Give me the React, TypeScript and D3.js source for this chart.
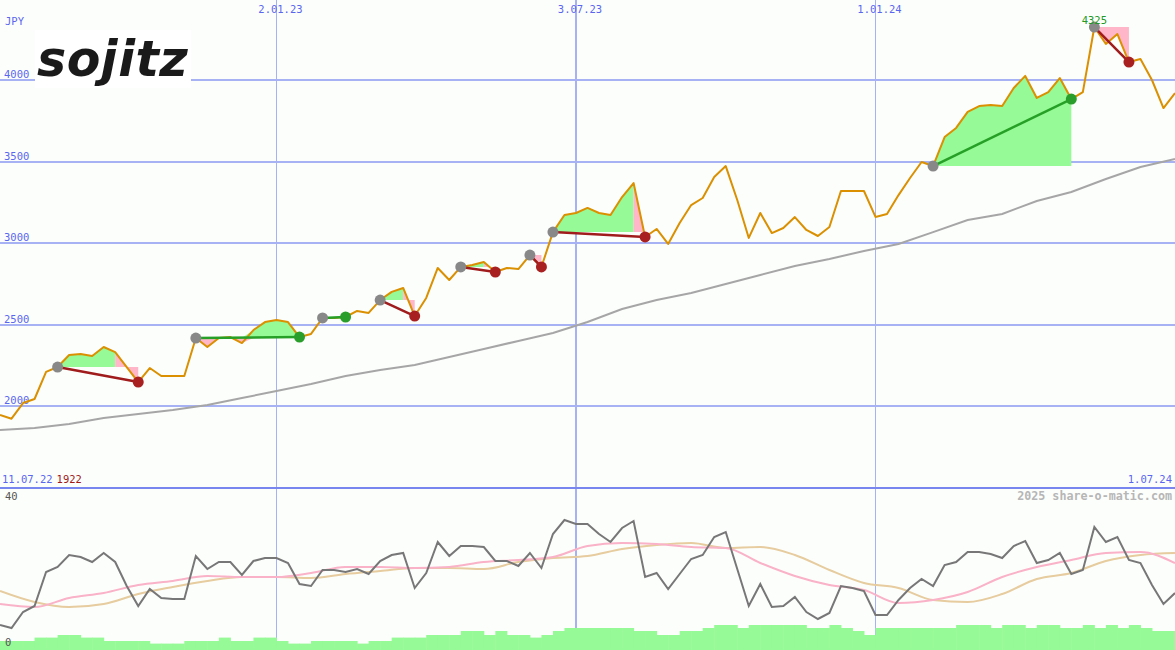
import * as d3 from "d3";

// weekly closes, first week = 18.07.22
const closes = [
  1945, 1922, 2018, 2043, 2209, 2239, 2313, 2319, 2307, 2362,
  2331, 2239, 2147, 2233, 2184, 2184, 2184, 2417, 2362, 2417,
  2423, 2386, 2466, 2515, 2528, 2515, 2423, 2442, 2540, 2540,
  2546, 2583, 2571, 2650, 2700, 2724, 2552, 2663, 2847, 2773,
  2853, 2865, 2883, 2822, 2847, 2840, 2926, 2853, 3067, 3172,
  3184, 3215, 3184, 3172, 3282, 3368, 3037, 3086, 2994, 3123,
  3233, 3276, 3405, 3472, 3264, 3031, 3184, 3061, 3092, 3159,
  3080, 3043, 3098, 3319, 3319, 3319, 3160, 3178, 3294, 3399,
  3497, 3472, 3650, 3706, 3804, 3840, 3847, 3840, 3951, 4025,
  3890, 3926, 4012, 3883, 3926, 4325, 4221, 4282, 4110, 4129,
  4000, 3828, 3920
];

// slow moving average, one value every 3rd week
const slowAvg = [
  1853, 1865, 1890, 1926, 1951, 1975, 2006, 2049, 2092, 2135,
  2184, 2221, 2252, 2301, 2350, 2399, 2448, 2515, 2595, 2650,
  2693, 2748, 2804, 2859, 2902, 2951, 2994, 3067, 3141, 3178,
  3258, 3313, 3393, 3466, 3515
];

// lower panel, weekly oscillator (grey)
const oscillator = [
  6.25, 5.5, 9.5, 11, 19.5, 20.75, 23.75, 23.25, 22, 24.25,
  22, 16, 11, 15.25, 13, 12.75, 12.75, 23.5, 20.25, 22,
  22, 18.75, 22.25, 23, 23, 21.75, 16.5, 16, 20, 20,
  19.5, 20.25, 19, 22.25, 23.75, 24.25, 15.5, 19.25, 27, 23.5,
  26, 26, 25.75, 22.25, 22.25, 21, 24.25, 20.5, 29, 32.5,
  31.5, 31.5, 29, 27, 30.5, 32.25, 18.25, 19.25, 15.25, 19,
  22.75, 23.75, 28.25, 29.5, 20.25, 11, 16.5, 10.75, 11, 13.25,
  9.5, 7.75, 9.25, 16, 15.5, 14.75, 8.75, 8.75, 12.5, 15.5,
  17.75, 16, 21.25, 22, 24.5, 24.5, 24, 23, 26, 27.25,
  21.75, 22.5, 24.25, 19, 20, 30.75, 27, 28.25, 22.5, 21.75,
  16.25, 11.5, 14.25
];

// lower panel averages, one value every 3rd week
const pinkAvg = [
  11.5, 10.75, 13, 14.25, 16.25, 17.25, 18.5, 18.25, 18.25, 19.25,
  20.75, 20.75, 20.5, 20.75, 22, 22.5, 23.25, 26, 26.75, 26.5,
  25.75, 25.5, 21.75, 18.5, 16.25, 15, 11.75, 12.5, 14.5, 18.25,
  20.75, 22.5, 24.25, 24.5, 21.75
];
const tanAvg = [
  14.75, 12, 10.75, 11.5, 14, 15.75, 17.25, 18.25, 18.25, 18,
  19, 19.75, 20.5, 20.5, 20.25, 22, 23, 23.5, 25.25, 26.25,
  26.75, 25.5, 25.75, 23.75, 20, 16.75, 15.5, 12.5, 12, 14,
  17.75, 19.25, 22.25, 23.75, 24.25
];

const volume = [
  2.25, 2.25, 2.25, 3.1, 3.1, 3.75, 3.75, 3.1, 3.1, 2.25,
  2.25, 2.25, 2.25, 1.6, 1.6, 1.6, 2.25, 2.25, 2.25, 3.1,
  2.25, 2.25, 3.1, 3.1, 2.25, 1.6, 1.6, 2.25, 2.25, 2.25,
  2.25, 1.6, 2.25, 2.25, 3.1, 3.1, 3.1, 3.75, 3.75, 3.75,
  4.75, 4.75, 3.75, 4.75, 3.75, 3.75, 3.1, 3.75, 4.75, 5.5,
  5.5, 5.5, 5.5, 5.5, 5.5, 4.75, 4.75, 3.75, 3.75, 4.75,
  4.75, 5.5, 6.25, 6.25, 5.5, 6.25, 6.25, 6.25, 6.25, 6.25,
  5.5, 5.5, 6.25, 5.5, 4.75, 3.75, 5.5, 5.5, 5.5, 5.5,
  5.5, 5.5, 5.5, 6.25, 6.25, 6.25, 5.5, 6.25, 6.25, 5.5,
  6.25, 6.25, 5.5, 5.5, 6.25, 5.5, 6.25, 5.5, 6.25, 5.5,
  4.75, 4.75, 4.75
];

// signals: week index of entry, exit, and where the give-back shading starts
const trades = [
  { open: 5, close: 12, fade: 10 },
  { open: 17, close: 26, fade: 26 },
  { open: 28, close: 30, fade: 30 },
  { open: 33, close: 36, fade: 35 },
  { open: 40, close: 43, fade: 42 },
  { open: 46, close: 47, fade: 46 },
  { open: 48, close: 56, fade: 55 },
  { open: 81, close: 93, fade: 93 },
  { open: 95, close: 98, fade: 95 }
];

const priceTicks = [2000, 2500, 3000, 3500, 4000];
const dateTicks = [
  { date: new Date(2023, 0, 2), label: "2.01.23", wide: false },
  { date: new Date(2023, 6, 3), label: "3.07.23", wide: true },
  { date: new Date(2024, 0, 1), label: "1.01.24", wide: false }
];
const startLabel = "11.07.22";
const endLabel = "1.07.24";

const width = 1175;
const height = 650;
const panelTop = 487;
const mono = "'DejaVu Sans Mono', monospace";
const blue = "#5a66f0";
const gridColor = "#a6b2f4";
const green = "#96fa96";
const pink = "#ffb6c8";

const firstWeek = new Date(2022, 6, 18);
const weekDate = (i: number) => d3.timeDay.offset(firstWeek, i * 7);

function App() {
  const x = d3.scaleTime().domain([firstWeek, new Date(2024, 6, 1)]).range([0, width]);
  const y = d3.scaleLinear().domain([2000, 4000]).range([406, 80]);
  const yLow = d3.scaleLinear().domain([0, 40]).range([650, 490]);
  const xi = (i: number) => x(weekDate(i));
  const step = xi(1) - xi(0);

  const priceLine = d3.line<number>().x((_, i) => xi(i)).y((d) => y(d))(closes) ?? "";
  const avgLine = d3.line<number>().x((_, i) => xi(i * 3)).y((d) => y(d))(slowAvg) ?? "";
  const oscLine = d3.line<number>().x((_, i) => xi(i)).y((d) => yLow(d))(oscillator) ?? "";
  const smooth = d3
    .line<number>()
    .x((_, i) => xi(i * 3))
    .y((d) => yLow(d))
    .curve(d3.curveMonotoneX);

  const maxIdx = closes.indexOf(d3.max(closes) as number);
  const minIdx = closes.indexOf(d3.min(closes) as number);

  const fills = trades.map((t) => {
    const entry = closes[t.open];
    const idx = (a: number, b: number) => d3.range(a, b + 1);
    const area = (lo: (v: number) => number) =>
      d3
        .area<number>()
        .x((i) => xi(i))
        .y0(y(entry))
        .y1((i) => y(lo(closes[i])));
    const gain = t.fade > t.open ? area((v) => Math.max(v, entry))(idx(t.open, t.fade)) ?? "" : "";
    const dip = t.fade > t.open ? area((v) => Math.min(v, entry))(idx(t.open, t.fade)) ?? "" : "";
    const back = t.close > t.fade ? area((v) => v)(idx(t.fade, t.close)) ?? "" : "";
    return { gain, dip, back };
  });

  return (
    <div style={{ position: "absolute", left: 0, top: 0 }}>
      <svg width={width} height={height} style={{ display: "block" }}>
        <rect x={0} y={0} width={width} height={height} fill="#fcfefc" />

        {dateTicks.map((t) => (
          <line
            key={t.label}
            x1={Math.round(x(t.date)) + (t.wide ? 0 : 0.5)}
            x2={Math.round(x(t.date)) + (t.wide ? 0 : 0.5)}
            y1={0}
            y2={height}
            stroke={gridColor}
            strokeWidth={t.wide ? 2 : 1}
          />
        ))}
        {priceTicks.map((p) => (
          <g key={p}>
            <line x1={0} x2={width} y1={Math.round(y(p))} y2={Math.round(y(p))} stroke={gridColor} strokeWidth={2} />
            <text x={4} y={Math.round(y(p)) - 2} fill={blue} fontFamily={mono} fontSize={10.5}>
              {p}
            </text>
          </g>
        ))}

        <rect x={35} y={30} width={156} height={58} fill="#ffffff" />
        <text
          x={37}
          y={76}
          fontFamily="'DejaVu Sans', sans-serif"
          fontWeight={700}
          fontStyle="italic"
          fontSize={49}
          letterSpacing={0.5}
          fill="#1a1a1a"
        >
          sojitz
        </text>

        <path d={avgLine} fill="none" stroke="#a6a6a6" strokeWidth={2} />

        {fills.map((f, k) => (
          <g key={k}>
            <path d={f.gain} fill={green} />
            <path d={f.dip} fill={pink} />
            <path d={f.back} fill={pink} />
          </g>
        ))}

        <path d={priceLine} fill="none" stroke="#da9000" strokeWidth={2} strokeLinejoin="round" />

        {trades.map((t, k) => {
          const up = closes[t.close] > closes[t.open];
          return (
            <g key={k}>
              <line
                x1={xi(t.open)}
                y1={y(closes[t.open])}
                x2={xi(t.close)}
                y2={y(closes[t.close])}
                stroke={up ? "#26a026" : "#a01c1c"}
                strokeWidth={2.5}
              />
              <circle cx={xi(t.open)} cy={y(closes[t.open])} r={5.5} fill="#888888" />
              <circle cx={xi(t.close)} cy={y(closes[t.close])} r={5.5} fill={up ? "#2a9e2a" : "#a82020"} />
            </g>
          );
        })}

        <text x={5} y={25} fill={blue} fontFamily={mono} fontSize={10.5}>
          JPY
        </text>
        {dateTicks.map((t) => (
          <text key={t.label} x={x(t.date) + 4} y={13} fill={blue} fontFamily={mono} fontSize={10.5} textAnchor="middle">
            {t.label}
          </text>
        ))}
        <text x={xi(maxIdx)} y={y(closes[maxIdx]) - 3} fill="#229922" fontFamily={mono} fontSize={10.5} textAnchor="middle">
          {closes[maxIdx]}
        </text>
        <text x={2} y={483} fontFamily={mono} fontSize={10.5}>
          <tspan fill={blue}>{startLabel}</tspan>
          <tspan fill="#a01818" dx={4}>
            {closes[minIdx]}
          </tspan>
        </text>
        <text x={1172} y={483} fill={blue} fontFamily={mono} fontSize={10.5} textAnchor="end">
          {endLabel}
        </text>

        <line x1={0} x2={width} y1={panelTop + 1} y2={panelTop + 1} stroke="#7886f0" strokeWidth={2} />

        <path d={smooth(tanAvg) ?? ""} fill="none" stroke="#e6cc9e" strokeWidth={2} />
        <path d={smooth(pinkAvg) ?? ""} fill="none" stroke="#f9b2c8" strokeWidth={2} />
        <path d={oscLine} fill="none" stroke="#777777" strokeWidth={2} />
        {volume.map((v, i) => (
          <rect key={i} x={xi(i)} y={yLow(v)} width={step + 0.5} height={height - yLow(v)} fill={green} />
        ))}

        <text x={5} y={500} fill="#555555" fontFamily={mono} fontSize={10.5}>
          40
        </text>
        <text x={5} y={646} fill="#555555" fontFamily={mono} fontSize={10.5}>
          0
        </text>
        <text x={1172} y={500} fill="#b6b6b6" fontFamily={mono} fontSize={11.7} fontWeight={700} textAnchor="end">
          2025 share-o-matic.com
        </text>
      </svg>
    </div>
  );
}

export default App;
